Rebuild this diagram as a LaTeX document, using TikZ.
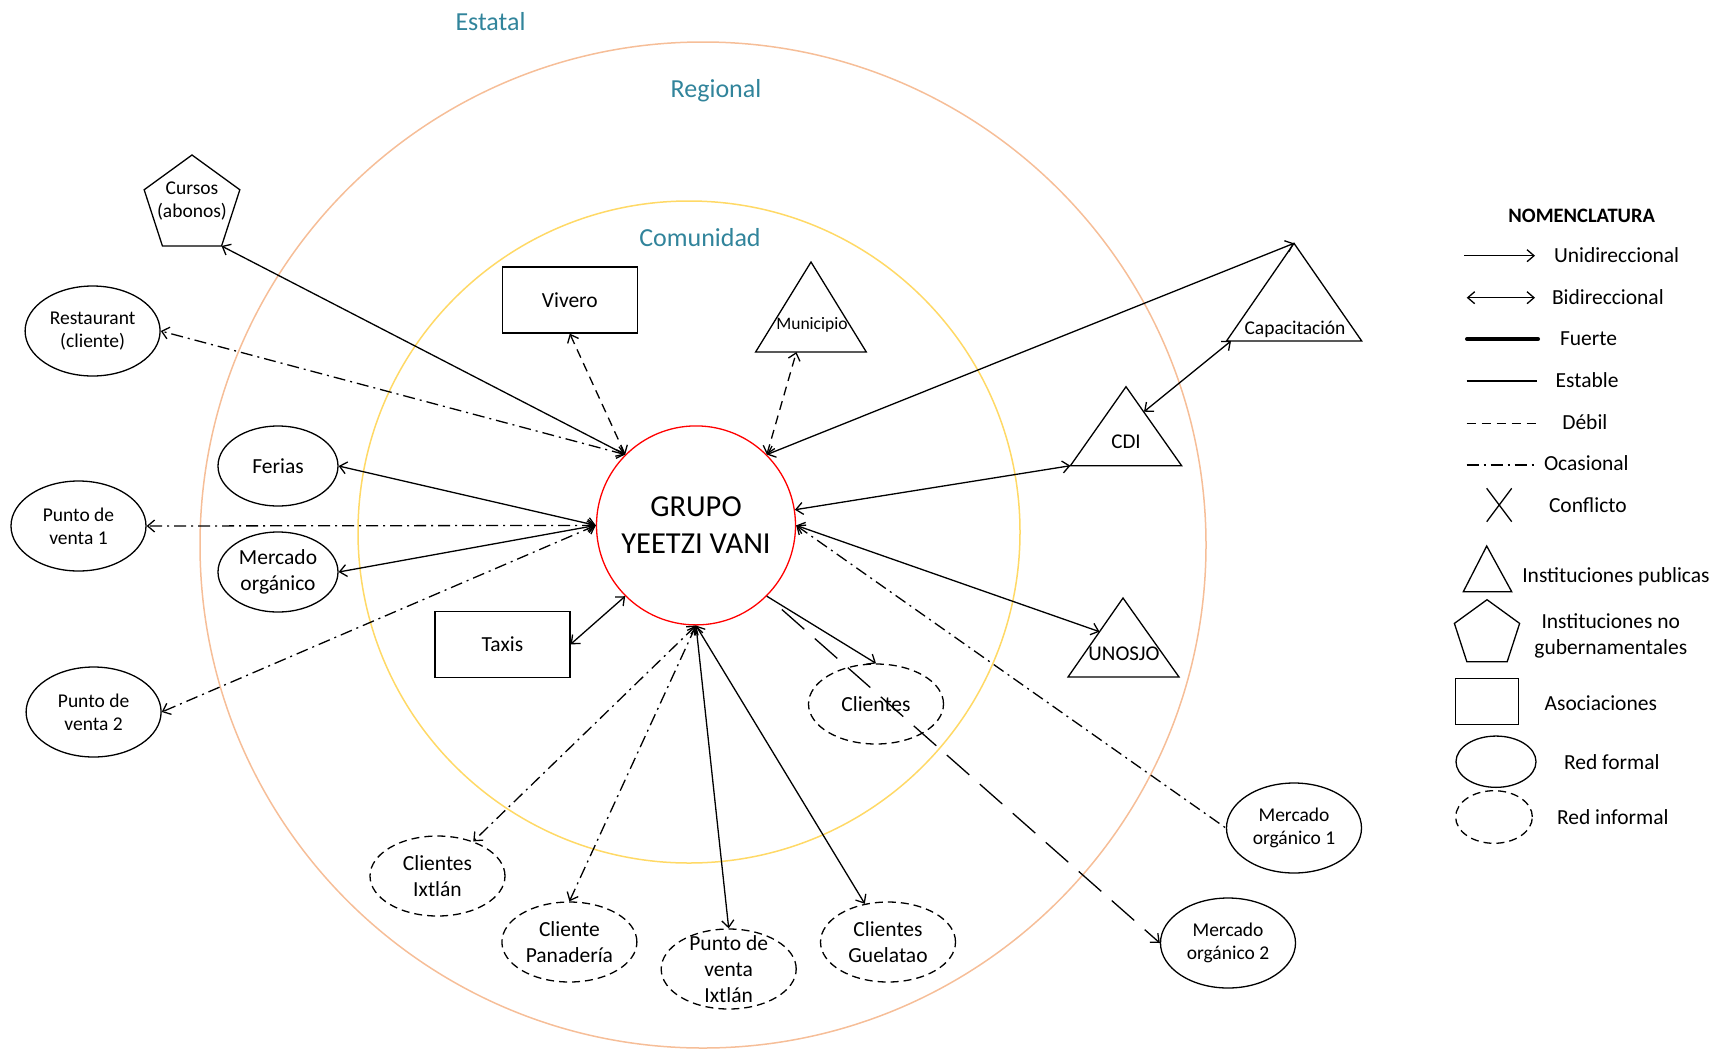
\documentclass[tikz,border=0pt]{standalone}
\usepackage{fontspec}
\setmainfont{Carlito}
\usetikzlibrary{arrows.meta,shapes.geometric}
\definecolor{Red}{HTML}{FF0000}
\definecolor{Peach}{HTML}{F6BE98}
\definecolor{Gold}{HTML}{FFD966}
\definecolor{Teal}{HTML}{31849B}

\begin{document}
\begin{tikzpicture}[x=1pt,y=-1pt,line width=1.3pt,>={Straight Barb[length=7pt,width=12pt]},
    big/.style={font=\fontsize{21.5}{26}\selectfont,align=center},
    small/.style={font=\fontsize{19.5}{23.3}\selectfont,align=center},
    level/.style={font=\fontsize{26}{30}\selectfont,text=Teal,anchor=base},
    formal/.style={draw,ellipse,inner sep=0pt,minimum width=135pt,minimum height=90pt},
    informal/.style={draw,ellipse,dash pattern=on 8pt off 5pt,inner sep=0pt,minimum width=135pt,minimum height=80pt},
    assoc/.style={draw,rectangle,inner sep=0pt,minimum width=135pt,minimum height=66pt},
    ngo/.style={draw,regular polygon,regular polygon sides=5,inner sep=0pt,outer sep=0pt},
    legtext/.style={font=\fontsize{21.5}{25}\selectfont,anchor=base west},
    debil/.style={dash pattern=on 9pt off 6pt},
    ocasional/.style={dash pattern=on 12pt off 5pt on 2pt off 5pt},
    largo/.style={dash pattern=on 30pt off 14pt}]
    \useasboundingbox (0,0) rectangle (1726,1050);
    % niveles
    \draw[Peach,line width=1.5pt] (703,545) circle[radius=503pt];
    \draw[Gold,line width=1.5pt] (689,532) circle[radius=331pt];
    \node[level] (estatal) at (490.5,30) {Estatal};
    \node[level] (regional) at (716,97) {Regional};
    \node[level] (comunidad) at (700,246.5) {Comunidad};
    % actores
    \node[draw=Red,circle,minimum size=199pt,inner sep=0pt,align=center,font=\fontsize{30.5}{36.7}\selectfont] (grupo) at (696,525.4) {GRUPO\\YEETZI VANI};
    \node[assoc,big] (vivero) at (569.8,300) {Vivero};
    \node[assoc,big] (taxis) at (502.4,644.3) {Taxis};
    \node[ngo,minimum size=100.6pt,label={[small,yshift=4pt]center:{Cursos\\(abonos)}}] (cursos) at (192,205.3) {};
    \node[formal,small] (restaurant) at (92.6,331) {Restaurant\\(cliente)};
    \node[formal,big,minimum width=120pt,minimum height=80pt] (ferias) at (278,466) {Ferias};
    \node[formal,small] (venta1) at (78.5,526) {Punto de\\venta 1};
    \node[formal,big,minimum width=120pt,minimum height=80pt] (mercado) at (278,572) {Mercado\\orgánico};
    \node[formal,small] (venta2) at (93.6,712) {Punto de\\venta 2};
    \node[formal,small] (mercado1) at (1294,828) {Mercado\\orgánico 1};
    \node[formal,small] (mercado2) at (1228,943) {Mercado\\orgánico 2};
    \node[informal,big] (clientes) at (876,704) {Clientes};
    \node[informal,big] (ixtlan) at (437.5,876) {Clientes\\Ixtlán};
    \node[informal,big] (panaderia) at (569.4,942) {Cliente\\Panadería};
    \node[informal,label={[big]center:{Punto de\\venta\\Ixtlán}}] (ventaix) at (728.7,969) {};
    \node[informal,big] (guelatao) at (888,942) {Clientes\\Guelatao};
    % instituciones publicas
    \node[font=\fontsize{17.5}{20}\selectfont,anchor=base] (municipio) at (812,329) {Municipio};
    \draw (811,262) -- (755.6,352) -- (866.3,352) -- cycle;
    \coordinate (muniBase) at (796.4,352);
    \node[small,anchor=base] (capacitacion) at (1295,334) {Capacitación};
    \draw (1294,243.3) coordinate (capTop) -- (1226.5,341) -- (1361.7,341) -- cycle;
    \coordinate (capBase) at (1231,341);
    \node[font=\fontsize{21}{25}\selectfont,anchor=base] (cdi) at (1126,448) {CDI};
    \draw (1126,386.7) -- (1070.4,465.7) coordinate (cdiBase) -- (1181.6,465.7) -- cycle;
    \coordinate (cdiSide) at (1144,411.7);
    \node[font=\fontsize{21}{25}\selectfont,anchor=base] (unosjo) at (1124,660) {UNOSJO};
    \draw (1123,598) -- (1068,677) -- (1179,677) -- cycle;
    \coordinate (unosjoSide) at (1099.5,631.7);
    % relaciones
    \draw[<->] (grupo.135) -- (cursos.corner 4);
    \draw[<->,ocasional] (grupo.135) -- (restaurant.east);
    \draw[<->,debil] (grupo.135) -- (vivero.south);
    \draw[<->,debil] (grupo.45) -- (muniBase);
    \draw[<->] (grupo.45) -- (capTop);
    \draw[<->] (cdiSide) -- (capBase);
    \draw[<->] (grupo.9) -- (cdiBase);
    \draw[<->] (grupo.east) -- (unosjoSide);
    \draw[<-,ocasional] (grupo.east) -- (mercado1.west);
    \draw[->,largo,shorten <=20pt] (grupo.315) -- (mercado2.west);
    \draw[->] (grupo.315) -- (clientes.north);
    \draw[<->] (grupo.225) -- (taxis.east);
    \draw[<->] (grupo.west) -- (ferias.east);
    \draw[<->,ocasional] (grupo.west) -- (venta1.east);
    \draw[<->] (grupo.west) -- (mercado.east);
    \draw[<->,ocasional] (grupo.west) -- (venta2.east);
    \draw[<->,ocasional] (grupo.south) -- (ixtlan);
    \draw[<->,ocasional] (grupo.south) -- (panaderia.north);
    \draw[<->] (grupo.south) -- (ventaix.north);
    \draw[<->] (grupo.south) -- (guelatao);
    % nomenclatura
    \node[font=\bfseries\fontsize{20.5}{24}\selectfont,anchor=base] (nomen) at (1581.7,222.3) {NOMENCLATURA};
    \draw[->] (1464,255.7) -- (1535,255.7);
    \node[legtext] (uni) at (1550,262.7) {Unidireccional};
    \draw[<->] (1466.7,297.7) -- (1535,297.7);
    \node[legtext] (bi) at (1548,304.3) {Bidireccional};
    \draw[line width=4pt,line cap=round] (1467,339) -- (1538,339);
    \node[legtext] (fuerte) at (1556,345.7) {Fuerte};
    \draw (1466.7,381) -- (1536.7,381);
    \node[legtext] (estable) at (1551.7,387.3) {Estable};
    \draw[debil] (1466.7,423.3) -- (1536.7,423.3);
    \node[legtext] (debil) at (1558.3,429.3) {Débil};
    \draw[ocasional] (1466.7,465) -- (1536.7,465);
    \node[legtext] (ocasional) at (1540,470) {Ocasional};
    \draw (1486.7,488.3) -- (1511.7,521.7) (1511.7,488.3) -- (1486.7,521.7);
    \node[legtext] (conflicto) at (1545,512) {Conflicto};
    \draw (1486.7,546) -- (1463.3,591.7) -- (1511.7,591.7) -- cycle;
    \node[legtext] (publicas) at (1518.3,582.3) {Instituciones publicas};
    \node[ngo,minimum size=68.6pt] (legngo) at (1487,634) {};
    \node[big] (nogub) at (1610.8,636) {Instituciones no\\gubernamentales};
    \node[draw,inner sep=0pt,minimum width=62.6pt,minimum height=46pt] (legassoc) at (1487,701.3) {};
    \node[legtext] (asociaciones) at (1540.7,710.7) {Asociaciones};
    \node[formal,minimum width=80pt,minimum height=51.3pt] (legformal) at (1496,761.7) {};
    \node[legtext] (redformal) at (1560,769.3) {Red formal};
    \node[informal,minimum width=76.7pt,minimum height=52.6pt] (leginformal) at (1494,817) {};
    \node[legtext] (redinformal) at (1553,824) {Red informal};
\end{tikzpicture}
\end{document}
